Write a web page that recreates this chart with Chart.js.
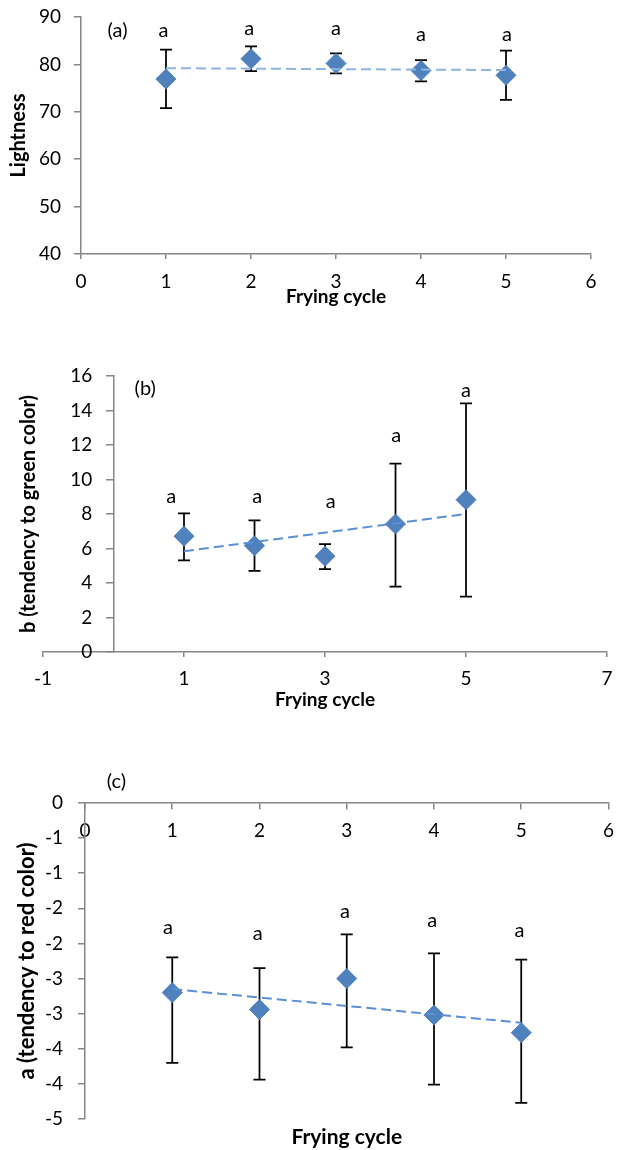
<!DOCTYPE html>
<html>
<head>
<meta charset="utf-8">
<script src="https://cdn.jsdelivr.net/npm/chart.js@4.4.1/dist/chart.umd.min.js"></script>
<style>
  body { margin: 0; background: #fff; width: 624px; height: 1150px; position: relative; overflow: hidden; }
  .panel { position: absolute; left: 0; }
</style>
</head>
<body>
<div class="panel" style="top:0"><canvas id="chartA" width="624" height="320"></canvas></div>
<div class="panel" style="top:360px"><canvas id="chartB" width="624" height="360"></canvas></div>
<div class="panel" style="top:760px"><canvas id="chartC" width="624" height="390"></canvas></div>
<script>
// frying cycles (x values)
const cycles = [1, 2, 3, 4, 5];
const trendX = [1, 5];

// (a) lightness
const lightMean = [76.9, 81.2, 80.2, 78.7, 77.7];
const lightLow = [70.8, 78.6, 78.1, 76.4, 72.5];
const lightHigh = [83.1, 83.8, 82.3, 80.9, 82.9];
const lightTrend = [79.2, 78.8];
const lightLetterX = [0.97, 1.98, 3.0, 4.0, 5.01];
const lightLetterY = [87.2, 87.5, 87.5, 86.4, 86.2];

// (b) b value
const bMean = [6.71, 6.16, 5.55, 7.42, 8.83];
const bLow = [5.31, 4.70, 4.81, 3.79, 3.21];
const bHigh = [8.04, 7.63, 6.26, 10.92, 14.42];
const bTrend = [5.84, 8.0];
const bLetterX = [0.82, 2.04, 3.08, 4.01, 5.0];
const bLetterY = [8.99, 9.04, 8.71, 12.52, 15.13];

// (c) a value
const aMean = [-2.70, -2.94, -2.50, -3.02, -3.27];
const aLow = [-3.70, -3.94, -3.48, -4.01, -4.27];
const aHigh = [-2.20, -2.35, -1.87, -2.14, -2.23];
const aTrend = [-2.65, -3.13];
const aLetterX = [0.95, 1.98, 2.98, 3.98, 4.98];
const aLetterY = [-1.78, -1.86, -1.54, -1.68, -1.82];
const aTickValues = [0, -0.5, -1, -1.5, -2, -2.5, -3, -3.5, -4, -4.5];
const aTickLabels = ['0', '-1', '-1', '-2', '-2', '-3', '-3', '-4', '-4', '-5'];

const letters = ['a', 'a', 'a', 'a', 'a'];

Chart.defaults.font.family = 'Lato';
Chart.defaults.color = '#000';

const axisGray = '#868686';
const diamondBlue = '#4F81BD';

// error bars, significance letters and the panel tag
const extras = {
  id: 'extras',
  beforeDatasetsDraw(chart, args, opts) {
    const { ctx, scales: { x, y } } = chart;
    ctx.save();
    ctx.strokeStyle = '#000';
    ctx.lineWidth = 1.75;
    opts.xs.forEach((xv, i) => {
      const px = x.getPixelForValue(xv);
      const top = y.getPixelForValue(opts.high[i]);
      const bot = y.getPixelForValue(opts.low[i]);
      ctx.beginPath();
      ctx.moveTo(px, top); ctx.lineTo(px, bot);
      ctx.moveTo(px - 6, top); ctx.lineTo(px + 6, top);
      ctx.moveTo(px - 6, bot); ctx.lineTo(px + 6, bot);
      ctx.stroke();
    });
    ctx.restore();
  },
  afterDraw(chart, args, opts) {
    const { ctx, scales: { x, y } } = chart;
    ctx.save();
    ctx.fillStyle = '#000';
    ctx.textAlign = 'center';
    ctx.textBaseline = 'middle';
    ctx.font = '20px Lato';
    opts.letterX.forEach((xv, i) => {
      ctx.fillText(letters[i], x.getPixelForValue(xv), y.getPixelForValue(opts.letterY[i]));
    });
    ctx.fillText(opts.tag, x.getPixelForValue(opts.tagX), y.getPixelForValue(opts.tagY));
    ctx.restore();
  }
};

// keep the plot box where the layout padding puts it
function noPad(s) {
  s.paddingTop = 0; s.paddingBottom = 0; s.paddingLeft = 0; s.paddingRight = 0;
}

function makeDatasets(mean, trend, trendColor) {
  return [
    {
      type: 'line',
      data: trendX.map((v, i) => ({ x: v, y: trend[i] })),
      borderColor: trendColor,
      borderWidth: 2,
      borderDash: [10, 5],
      pointRadius: 0,
      fill: false
    },
    {
      type: 'scatter',
      data: cycles.map((v, i) => ({ x: v, y: mean[i] })),
      pointStyle: 'rectRot',
      pointRadius: 10,
      backgroundColor: diamondBlue,
      borderColor: diamondBlue,
      borderWidth: 1
    }
  ];
}

const tickFont = { size: 19 };
const titleFont = { size: 19, weight: 'bold' };

// (a)
new Chart(document.getElementById('chartA'), {
  type: 'scatter',
  data: { datasets: makeDatasets(lightMean, lightTrend, '#8DB4E2') },
  options: {
    responsive: false,
    animation: false,
    layout: { padding: { top: 17, right: 33, left: 0, bottom: 0 } },
    plugins: {
      legend: { display: false },
      tooltip: { enabled: false },
      extras: { xs: cycles, low: lightLow, high: lightHigh, letterX: lightLetterX, letterY: lightLetterY, tag: '(a)', tagX: 0.43, tagY: 87.1 }
    },
    scales: {
      x: {
        type: 'linear', min: 0, max: 6,
        ticks: { stepSize: 1, font: tickFont, padding: 11 },
        grid: { drawOnChartArea: false, tickLength: 5, color: axisGray, lineWidth: 1.5 },
        border: { color: axisGray, width: 1.5 },
        title: { display: true, text: 'Frying cycle', font: titleFont, padding: { top: 0, bottom: 12 } },
        afterFit: (s) => { s.height = 66; noPad(s); }
      },
      y: {
        min: 40, max: 90,
        ticks: { stepSize: 10, font: tickFont, padding: 13 },
        grid: { drawOnChartArea: false, tickLength: 7, color: axisGray, lineWidth: 1.5 },
        border: { color: axisGray, width: 1.5 },
        title: { display: true, text: 'Lightness', font: { size: 20, weight: 'bold' }, padding: { top: 7, bottom: 0 } },
        afterFit: (s) => { s.width = 81; noPad(s); }
      }
    }
  },
  plugins: [extras]
});

// (b)
new Chart(document.getElementById('chartB'), {
  type: 'scatter',
  data: { datasets: makeDatasets(bMean, bTrend, '#5B8FD6') },
  options: {
    responsive: false,
    animation: false,
    layout: { padding: { top: 16, right: 17, left: 0, bottom: 0 } },
    plugins: {
      legend: { display: false },
      tooltip: { enabled: false },
      extras: { xs: cycles, low: bLow, high: bHigh, letterX: bLetterX, letterY: bLetterY, tag: '(b)', tagX: 0.45, tagY: 15.29 }
    },
    scales: {
      x: {
        type: 'linear', min: -1, max: 7,
        ticks: { stepSize: 2, font: tickFont, padding: 10 },
        grid: { drawOnChartArea: false, tickLength: 5, color: axisGray, lineWidth: 1.5 },
        border: { color: axisGray, width: 1.5 },
        title: { display: true, text: 'Frying cycle', font: titleFont, padding: { top: 0, bottom: 9 } },
        afterFit: (s) => { s.height = 68; noPad(s); }
      },
      y: {
        position: { x: 0 },
        min: 0, max: 16,
        ticks: { stepSize: 2, display: false },
        grid: { drawOnChartArea: false, tickLength: 7, color: axisGray, lineWidth: 1.5 },
        border: { color: axisGray, width: 1.5 }
      },
      yL: {
        position: { x: -0.3 },
        min: 0, max: 16,
        ticks: { stepSize: 2, font: tickFont, padding: 0 },
        grid: { display: false, drawTicks: false },
        border: { display: false }
      },
      yT: {
        position: 'left',
        min: 0, max: 16,
        ticks: { display: false },
        grid: { display: false, drawTicks: false },
        border: { display: false },
        title: { display: true, text: 'b (tendency to green color)', font: { size: 20, weight: 'bold' }, padding: { top: 17, bottom: 0 } },
        afterFit: (s) => { s.width = 43; noPad(s); }
      }
    }
  },
  plugins: [extras]
});

// (c)
new Chart(document.getElementById('chartC'), {
  type: 'scatter',
  data: { datasets: makeDatasets(aMean, aTrend, '#5B8FD6') },
  options: {
    responsive: false,
    animation: false,
    layout: { padding: { top: 43, right: 2, left: 0, bottom: 0 } },
    plugins: {
      legend: { display: false },
      tooltip: { enabled: false },
      extras: { xs: cycles, low: aLow, high: aHigh, letterX: aLetterX, letterY: aLetterY, tag: '(c)', tagX: 0.36, tagY: 0.3 }
    },
    scales: {
      x: {
        type: 'linear', min: 0, max: 6,
        position: { y: 0 },
        ticks: { stepSize: 1, font: tickFont, padding: 10 },
        grid: { drawOnChartArea: false, tickLength: 6, color: axisGray, lineWidth: 1.5 },
        border: { color: axisGray, width: 1.5 }
      },
      xT: {
        type: 'linear', position: 'bottom', min: 0, max: 6,
        ticks: { display: false },
        grid: { display: false, drawTicks: false },
        border: { display: false },
        title: { display: true, text: 'Frying cycle', font: { size: 21, weight: 'bold' }, padding: { top: 0, bottom: 0 } },
        afterFit: (s) => { s.height = 31; noPad(s); }
      },
      y: {
        min: -4.5, max: 0,
        ticks: {
          stepSize: 0.5, font: tickFont, padding: 15,
          callback: (v) => {
            const i = aTickValues.findIndex((t) => Math.abs(t - v) < 1e-6);
            return i >= 0 ? aTickLabels[i] : '';
          }
        },
        grid: { drawOnChartArea: false, tickLength: 7, color: axisGray, lineWidth: 1.5 },
        border: { color: axisGray, width: 1.5 },
        title: { display: true, text: 'a (tendency to red color)', font: { size: 22, weight: 'bold' }, padding: { top: 14, bottom: 0 } },
        afterFit: (s) => { s.width = 85; noPad(s); }
      }
    }
  },
  plugins: [extras]
});
</script>
</body>
</html>
